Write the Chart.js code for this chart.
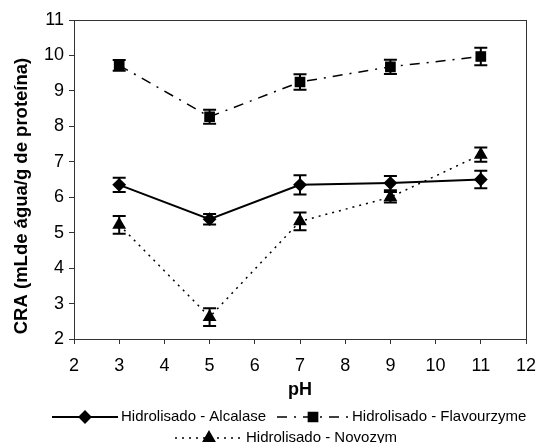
<!DOCTYPE html>
<html>
<head>
<meta charset="utf-8">
<script src="https://cdn.jsdelivr.net/npm/chart.js@4"></script>
<style>
    html, body { margin: 0; padding: 0; background: #fff; }
    #wrap { width: 537px; height: 443px; }
</style>
</head>
<body>
<div id="wrap"><canvas id="chart"></canvas></div>
<script>
// pH values and CRA readings for each hydrolysate
const ph = [3, 5, 7, 9, 11];
const alcalase = [6.35, 5.38, 6.35, 6.4, 6.5];
const alcalase_err = [0.2, 0.15, 0.27, 0.2, 0.25];
const flavourzyme = [9.72, 8.27, 9.25, 9.68, 9.97];
const flavourzyme_err = [0.15, 0.2, 0.22, 0.2, 0.25];
const novozym = [5.22, 2.62, 5.32, 6.0, 7.2];
const novozym_err = [0.25, 0.25, 0.25, 0.15, 0.2];
const labels = ["Hidrolisado - Alcalase", "Hidrolisado - Flavourzyme", "Hidrolisado - Novozym"];
const y_title = "CRA (mLde água/g de proteína)";

const FONT = "'Liberation Sans', Arial, sans-serif";

function to_points(ys) {
    return ph.map((x, i) => ({ x: x, y: ys[i] }));
}

// vertical error bars with caps, drawn with the y scale
const error_bars = {
    id: 'error_bars',
    afterDatasetsDraw(chart) {
        const ctx = chart.ctx;
        const yScale = chart.scales.y;
        ctx.save();
        ctx.strokeStyle = '#000';
        ctx.lineWidth = 2;
        chart.data.datasets.forEach((ds, i) => {
            const meta = chart.getDatasetMeta(i);
            meta.data.forEach((pt, j) => {
                const v = ds.data[j].y;
                const e = ds.errors[j];
                const top = yScale.getPixelForValue(v + e);
                const bot = yScale.getPixelForValue(v - e);
                ctx.beginPath();
                ctx.moveTo(pt.x, top); ctx.lineTo(pt.x, bot);
                ctx.moveTo(pt.x - 6.5, top); ctx.lineTo(pt.x + 6.5, top);
                ctx.moveTo(pt.x - 6.5, bot); ctx.lineTo(pt.x + 6.5, bot);
                ctx.stroke();
            });
        });
        ctx.restore();
    }
};

// box round the plot area + y title (sits a bit low in the original)
const frame = {
    id: 'frame',
    afterDraw(chart) {
        const a = chart.chartArea;
        const ctx = chart.ctx;
        ctx.save();
        ctx.strokeStyle = '#333';
        ctx.lineWidth = 1;
        ctx.strokeRect(a.left + 0.5, a.top + 0.5, a.right - a.left, a.bottom - a.top);

        ctx.translate(22, 196);
        ctx.rotate(-Math.PI / 2);
        ctx.font = 'bold 18.5px ' + FONT;
        ctx.fillStyle = '#000';
        ctx.textAlign = 'center';
        ctx.textBaseline = 'middle';
        ctx.fillText(y_title, 0, 0);
        ctx.restore();
    }
};

// legend with line style + marker, like the original
const line_legend = {
    id: 'line_legend',
    afterDraw(chart) {
        const ctx = chart.ctx;
        const spots = [
            { x0: 52, x1: 118, y: 417 },
            { x0: 277, x1: 349, y: 417 },
            { x0: 175, x1: 243, y: 438 }
        ];
        ctx.save();
        chart.data.datasets.forEach((ds, i) => {
            const s = spots[i];
            ctx.strokeStyle = '#000';
            ctx.lineWidth = ds.borderWidth;
            ctx.setLineDash(ds.borderDash || []);
            ctx.beginPath();
            ctx.moveTo(s.x0, s.y); ctx.lineTo(s.x1, s.y);
            ctx.stroke();
            ctx.setLineDash([]);
            ctx.fillStyle = '#000';
            Chart.helpers.drawPoint(ctx, {
                pointStyle: ds.pointStyle, radius: ds.pointRadius,
                rotation: 0, borderWidth: 1
            }, (s.x0 + s.x1) / 2, s.y);
            ctx.font = '15px ' + FONT;
            ctx.textBaseline = 'middle';
            ctx.fillStyle = '#000';
            ctx.fillText(ds.label, s.x1 + 3, s.y);
        });
        ctx.restore();
    }
};

new Chart(document.getElementById('chart'), {
    type: 'line',
    data: {
        datasets: [{
            label: labels[0],
            data: to_points(alcalase),
            errors: alcalase_err,
            borderColor: '#000', backgroundColor: '#000',
            borderWidth: 2,
            pointStyle: 'rectRot', pointRadius: 5.5
        }, {
            label: labels[1],
            data: to_points(flavourzyme),
            errors: flavourzyme_err,
            borderColor: '#000', backgroundColor: '#000',
            borderWidth: 1.5, borderDash: [10, 7, 2, 7],
            pointStyle: 'rect', pointRadius: 6.5
        }, {
            label: labels[2],
            data: to_points(novozym),
            errors: novozym_err,
            borderColor: '#000', backgroundColor: '#000',
            borderWidth: 1.5, borderDash: [2, 5],
            pointStyle: 'triangle', pointRadius: 6.5
        }]
    },
    plugins: [error_bars, frame, line_legend],
    options: {
        responsive: true,
        maintainAspectRatio: false,
        animation: false,
        layout: { padding: { top: 20, right: 11, left: 0, bottom: 42 } },
        plugins: {
            legend: { display: false },
            tooltip: { enabled: false }
        },
        scales: {
            x: {
                type: 'linear', min: 2, max: 12,
                afterFit: (s) => { s.height = 62; s.paddingRight = 0; s.paddingLeft = 0; },
                ticks: { stepSize: 1, color: '#000', font: { family: FONT, size: 18 }, padding: 11 },
                grid: { drawOnChartArea: false, tickLength: 5, color: '#333' },
                border: { color: '#333' },
                title: { display: true, text: 'pH', color: '#000', font: { family: FONT, size: 18, weight: 'bold' }, padding: 0 }
            },
            y: {
                min: 2, max: 11,
                afterFit: (s) => { s.width = 74; },
                ticks: { stepSize: 1, color: '#000', font: { family: FONT, size: 18 }, padding: 5 },
                grid: { drawOnChartArea: false, tickLength: 5, color: '#333' },
                border: { color: '#333' }
            }
        }
    }
});
</script>
</body>
</html>
